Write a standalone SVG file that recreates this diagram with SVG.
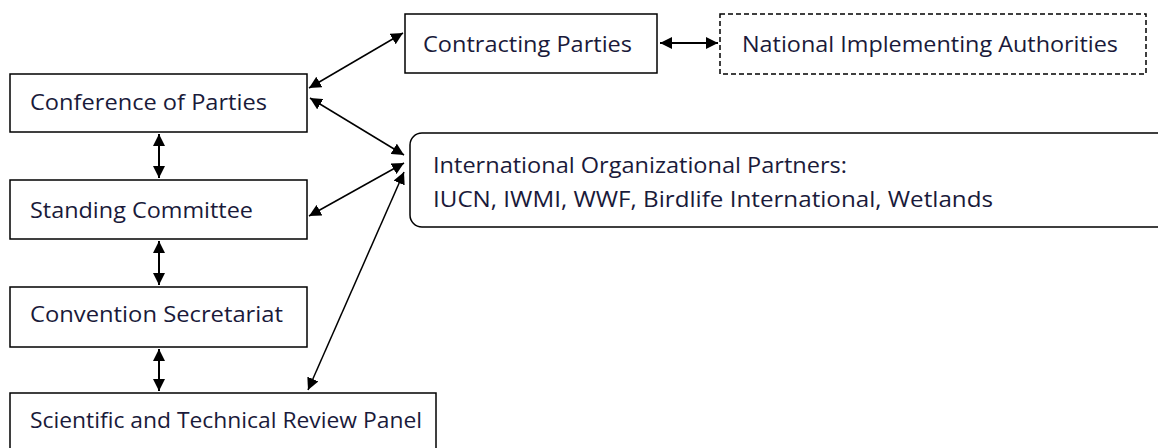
<svg xmlns="http://www.w3.org/2000/svg" width="1158" height="448" viewBox="0 0 1158 448">
<style>
.box{fill:#fff;stroke:#000;stroke-width:1.5}
.dash{fill:#fff;stroke:#000;stroke-width:1.5;stroke-dasharray:5 3}
.t{font-family:"Open Sans","Noto Sans","Liberation Sans",sans-serif;font-size:21px;fill:#1a1a3a}
.c{stroke:#000;stroke-width:1.5;fill:none;marker-start:url(#a);marker-end:url(#a)}
.v{stroke:#000;stroke-width:2;fill:none;marker-start:url(#a);marker-end:url(#a)}
</style>
<defs>
<marker id="a" viewBox="0 0 10 10" refX="10" refY="5" markerWidth="12" markerHeight="12" markerUnits="userSpaceOnUse" orient="auto-start-reverse">
<path d="M0,0 L10,5 L0,10 z" fill="#000"/>
</marker>
</defs>
<rect width="1158" height="448" fill="#fff"/>
<g id="conference"><rect class="box" x="10" y="74" width="297" height="58"/><text class="t" x="30" y="110" textLength="237" lengthAdjust="spacingAndGlyphs">Conference of Parties</text></g>
<g id="contracting"><rect class="box" x="405" y="14" width="252" height="59"/><text class="t" x="423" y="52" textLength="209" lengthAdjust="spacingAndGlyphs">Contracting Parties</text></g>
<g id="national"><rect class="dash" x="720" y="14" width="426" height="60"/><text class="t" x="742" y="52" textLength="376" lengthAdjust="spacingAndGlyphs">National Implementing Authorities</text></g>
<g id="standing"><rect class="box" x="10" y="180" width="297" height="59"/><text class="t" x="30" y="218" textLength="223" lengthAdjust="spacingAndGlyphs">Standing Committee</text></g>
<g id="secretariat"><rect class="box" x="10" y="287" width="297" height="60"/><text class="t" x="30" y="322" textLength="253" lengthAdjust="spacingAndGlyphs">Convention Secretariat</text></g>
<g id="panel"><rect class="box" x="10" y="393" width="426" height="60"/><text class="t" x="30" y="428" textLength="392" lengthAdjust="spacingAndGlyphs">Scientific and Technical Review Panel</text></g>
<g id="international"><rect class="box" x="410" y="133" width="760" height="94" rx="12"/><text class="t" x="433" y="173" textLength="414" lengthAdjust="spacingAndGlyphs">International Organizational Partners:</text><text class="t" x="433" y="207" textLength="560" lengthAdjust="spacingAndGlyphs">IUCN, IWMI, WWF, Birdlife International,  Wetlands</text></g>
<g id="connectors">
<line class="c" x1="309" y1="88" x2="403" y2="33"/>
<line class="c" x1="310" y1="98" x2="404" y2="155"/>
<line class="c" x1="309" y1="216" x2="404" y2="163"/>
<line class="c" x1="404" y1="172" x2="308" y2="390"/>
<line class="v" x1="159" y1="134" x2="159" y2="178"/>
<line class="v" x1="159" y1="241" x2="159" y2="285"/>
<line class="v" x1="159" y1="349" x2="159" y2="391"/>
<line class="v" x1="660" y1="43" x2="718" y2="43"/>
</g>
</svg>
